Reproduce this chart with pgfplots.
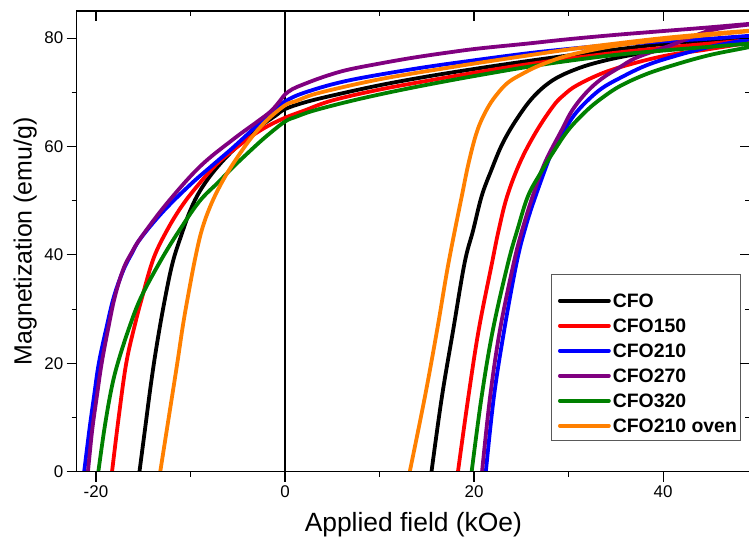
\documentclass[border=0pt]{standalone}
\usepackage{fontspec}
\setmainfont{Liberation Sans}
\usepackage{pgfplots}
\pgfplotsset{compat=1.18}
\definecolor{cfoorange}{RGB}{255,128,0}
\definecolor{cfopurple}{RGB}{128,0,128}
\definecolor{cfogreen}{RGB}{0,128,0}
\definecolor{cfored}{RGB}{255,0,0}
\definecolor{cfoblue}{RGB}{0,0,255}
\begin{document}
\begin{tikzpicture}
\begin{axis}[
 scale only axis, width=673.3bp, height=460.7bp,
 at={(0,0)}, anchor=south west,
 xmin=-22.04, xmax=49.2, ymin=0, ymax=85,
 xtick={-20,0,20,40}, ytick={0,20,40,60,80},
 minor x tick num=1, minor y tick num=1,
 tick pos=left, tick align=outside,
 major tick length=10bp, minor tick length=5bp,
 every tick/.style={black, line width=1.1bp},
 axis line style={line width=1.2bp},
 tick label style={font=\fontsize{17}{20}\selectfont},
 /pgf/number format/assume math mode=true,
 xlabel={Applied field (kOe)}, ylabel={Magnetization (emu/g)},
 every axis x label/.style={at={(axis description cs:0.5,-0.1302)}, anchor=base, font=\fontsize{26.5}{30}\selectfont},
 every axis y label/.style={at={(axis description cs:-0.0668,0.5)}, anchor=base, rotate=90, font=\fontsize{25}{30}\selectfont},
 legend style={draw=none, fill=none, inner sep=0pt, outer sep=0pt,
   at={(axis description cs:0.7148,0.3983)}, anchor=north west,
   font=\fontsize{19.5}{23}\selectfont\bfseries, row sep=0pt,
   nodes={inner ysep=5.5bp, inner xsep=2bp, text height=14bp, text depth=0bp}},
 legend cell align=left,
 legend image code/.code={\draw[#1, line cap=round, line width=3.8bp] (0bp,0bp) -- (49bp,0bp);},
 every axis plot/.append style={line width=3.8bp, smooth, tension=0.6},
]
\draw[line width=1bp, draw=gray!70!black, fill=white] (axis description cs:0.7055,0.4285) rectangle (axis description cs:0.9866,0.0688);
\addplot[black, sharp plot, line width=1.2bp, forget plot] coordinates {(0,0) (0,85)};
% CFO
\addplot[black] coordinates {(-15.4,0) (-14.8,8) (-14.2,16) (-13.6,23) (-12.8,31) (-11.9,38.5) (-10.9,44) (-10,48.3) (-9,51.8) (-7.5,55.5) (-5.5,59.3) (-3,63.2) (-1,65.7) (0,66.9) (2,68.1) (5,69.4) (10,71.3) (15,72.9) (20,74.3) (25,75.6) (30,76.8) (35,77.9) (40,78.9) (45,79.7) (51,80.5)
 (45,79.3) (40.7,78.0) (37,77) (33.7,75.8) (31,74.4) (28.4,72.3) (26.3,69.2) (24.5,65) (23,60.5) (21.8,55.5) (20.8,50.8) (19.9,44.5) (19,38.5) (17.8,26.2) (16.6,13.8) (15.5,0)};
\addlegendentry{CFO}
% CFO150
\addplot[cfored] coordinates {(-18.3,0) (-17.6,10) (-16.8,20) (-15.9,27) (-15.1,32.3) (-13.9,39.4) (-12.4,44.8) (-10.8,49.3) (-9,53.3) (-7.2,56.8) (-5.5,59.3) (-3.7,61.7) (-2,63.6) (0,65.3) (2,66.6) (5,68.5) (10,70.5) (15,72.1) (20,73.6) (25,75) (30,76.2) (35,77.3) (40,78.2) (45,79) (51,79.8)
 (45,78) (40.7,76.9) (37,75.4) (33.7,73.6) (30.9,71.3) (29.5,69.5) (28.4,67.5) (26.6,62.8) (24.9,57.2) (23.5,50.8) (22.6,44.5) (21.9,38.5) (20.5,26.2) (19.4,13.8) (18.3,0)};
\addlegendentry{CFO150}
% CFO210
\addplot[cfoblue] coordinates {(-21.25,0) (-20.7,7.7) (-20.2,14) (-19.7,20) (-18.9,26.5) (-18.1,32.3) (-17.1,37.2) (-16.2,40.3) (-15.3,43) (-12.9,48) (-10,53) (-7.5,56.8) (-5.5,59.8) (-3,63.8) (-1,66.8) (0,68.3) (2,69.9) (6.5,72.1) (13.6,74.3) (20,75.9) (25.7,77.2) (30,78) (35,78.8) (40,79.4) (45,79.9) (51,80.5)
 (45,78.4) (40.7,76.4) (38,74.8) (35.4,72.6) (33.5,70.7) (31.9,68.3) (30.6,65.8) (29.6,63.1) (28.4,59.7) (26.5,50.8) (25.4,44.8) (24.5,38.5) (23.2,26.2) (22.1,13.8) (21.25,0)};
\addlegendentry{CFO210}
% CFO270
\addplot[cfopurple] coordinates {(-20.85,0) (-20.4,7.7) (-19.9,14) (-19.4,20) (-18.7,26.5) (-18.0,32.3) (-17.1,37.4) (-16.2,40.5) (-15.2,43.3) (-12.5,49.5) (-9,56.3) (-5.5,61.3) (-3,64.5) (-1.5,66.5) (-0.5,68.5) (0,69.6) (0.8,70.6) (2,71.5) (4,72.8) (6.5,74.1) (10,75.3) (13.6,76.4) (17.5,77.4) (20.6,78.1) (25.7,79) (30,79.8) (35,80.6) (40,81.3) (45,82) (51,82.9)
 (49.1,82.5) (45,81.4) (40.7,78.6) (37.2,76.4) (35.4,74.6) (33.5,72.5) (31.9,70) (30.4,66.7) (29.3,63.1) (27.5,57) (26.2,50.8) (25.1,44.6) (24.2,38.5) (22.75,26.2) (21.7,13.8) (20.85,0)};
\addlegendentry{CFO270}
% CFO320
\addplot[cfogreen] coordinates {(-19.75,0) (-19.1,8) (-18.4,15) (-17.7,20) (-16.5,26.5) (-15.2,32.3) (-13,39.4) (-11,45) (-9,50) (-7,53.5) (-5.5,56.2) (-3.5,59.5) (-1.9,62) (0,64.6) (1.2,65.5) (3,66.6) (6.5,68.2) (10,69.6) (13.6,70.9) (17.5,72.2) (21,73.3) (25.7,74.7) (30,75.8) (35,76.9) (40,77.7) (45,78.4) (51,79.1)
 (45,76.9) (40.7,74.8) (38,73.2) (35.4,71.1) (33.5,68.9) (31.9,66.6) (30,63.1) (28.4,59) (27,55) (25.7,50.8) (24.6,44.7) (23.6,38.5) (22,26.2) (20.8,13.8) (19.75,0)};
\addlegendentry{CFO320}
% CFO210 oven
\addplot[cfoorange] coordinates {(-13.2,0) (-12.3,10) (-11.4,20) (-10.8,27) (-10.2,33) (-9.5,39.4) (-8.8,44.6) (-7.9,49) (-6.8,53) (-5.5,56.8) (-3.7,61.3) (-2,64.7) (0,67.6) (1.2,68.4) (3,69.6) (6.5,71.1) (10,72.4) (13.6,73.5) (17.5,74.6) (20,75.3) (25.7,76.8) (30,77.9) (35,79) (40,80) (45,80.8) (51,81.6)
 (45,80.6) (40,79.7) (35,78.6) (30.2,76.9) (27,75) (24.9,73.2) (23.6,71.8) (22.6,70) (21.5,67.3) (20.4,63.2) (19.5,57.5) (18.7,50.8) (17.3,38.5) (16.1,26.2) (14.8,13.8) (13.2,0)};
\addlegendentry{CFO210 oven}
\end{axis}
\begin{axis}[
 scale only axis, width=673.3bp, height=460.7bp,
 at={(0,0)}, anchor=south west,
 xmin=-22.04, xmax=49.2, ymin=0, ymax=85,
 xtick={-20,0,20,40}, ytick={0,20,40,60,80},
 minor x tick num=1, minor y tick num=1,
 tick pos=right, tick align=inside,
 major tick length=10bp, minor tick length=5bp,
 every tick/.style={black, line width=1.1bp},
 axis line style={line width=1.2bp},
 xticklabels={}, yticklabels={},
]
\end{axis}
\pgfresetboundingbox
\path[use as bounding box] (-76.7bp,-66.3bp) rectangle (672.3bp,471.7bp);
\end{tikzpicture}
\end{document}
